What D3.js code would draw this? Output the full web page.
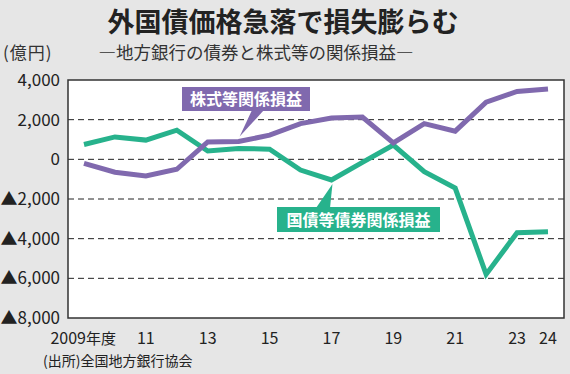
<!DOCTYPE html>
<html>
<head>
<meta charset="utf-8">
<script src="https://cdn.jsdelivr.net/npm/d3@7"></script>
<style>
  html, body { margin: 0; padding: 0; background: #e6e6e6; }
  svg { display: block; font-family: "Noto Sans CJK JP", "Noto Sans", sans-serif; }
</style>
</head>
<body>
<div id="chart"></div>
<script>
// fiscal years 2009-2024
const years = [2009, 2010, 2011, 2012, 2013, 2014, 2015, 2016, 2017, 2018, 2019, 2020, 2021, 2022, 2023, 2024]
// 株式等関係損益 (億円)
const stockValues = [-200, -650, -840, -500, 880, 900, 1220, 1800, 2080, 2130, 830, 1800, 1420, 2880, 3420, 3550]
// 国債等債券関係損益 (億円)
const bondValues = [750, 1130, 970, 1470, 420, 550, 510, -540, -1040, -150, 720, -620, -1450, -5800, -3700, -3650]
const yTicks = [4000, 2000, 0, -2000, -4000, -6000, -8000]
const xTickYears = [2009, 2011, 2013, 2015, 2017, 2019, 2021, 2023, 2024]

const width = 570
const height = 374
const plot = { left: 68, right: 564, top: 80, bottom: 318 }

const svg = d3.select('#chart').append('svg')
  .attr('width', width)
  .attr('height', height)

// scales
const x = d3.scaleLinear().domain([2009, 2024]).range([84, 548])
const y = d3.scaleLinear().domain([-8000, 4000]).range([plot.bottom, plot.top])

// titles
svg.append('text')
  .attr('x', 283).attr('y', 32)
  .attr('text-anchor', 'middle')
  .style('font-size', '27px').style('font-weight', 'bold').style('fill', '#222')
  .text('外国債価格急落で損失膨らむ')

svg.append('text')
  .attr('x', 256).attr('y', 59)
  .attr('text-anchor', 'middle')
  .style('font-size', '17.5px').style('fill', '#333')
  .text('―地方銀行の債券と株式等の関係損益―')

svg.append('text')
  .attr('x', 3).attr('y', 59)
  .style('font-size', '17px').style('fill', '#333')
  .style('letter-spacing', '1px')
  .text('(億円)')

// plot background
svg.append('rect')
  .attr('x', plot.left).attr('y', plot.top)
  .attr('width', plot.right - plot.left).attr('height', plot.bottom - plot.top)
  .attr('fill', '#fff')

// dashed grid lines
svg.selectAll('.grid-line')
  .data(yTicks.filter(d => d > -8000 && d < 4000))
  .enter()
  .append('line')
  .attr('class', 'grid-line')
  .attr('x1', plot.left).attr('x2', plot.right)
  .attr('y1', d => y(d)).attr('y2', d => y(d))
  .attr('stroke', '#222')
  .attr('stroke-width', 1)
  .attr('stroke-dasharray', '6,4')

// frame
svg.append('rect')
  .attr('x', plot.left).attr('y', plot.top)
  .attr('width', plot.right - plot.left).attr('height', plot.bottom - plot.top)
  .attr('fill', 'none')
  .attr('stroke', '#333')
  .attr('stroke-width', 1.5)

// y-axis labels
const fmt = d3.format(',')
svg.selectAll('.y-label')
  .data(yTicks)
  .enter()
  .append('text')
  .attr('class', 'y-label')
  .attr('x', 60).attr('y', d => y(d) + 6)
  .attr('text-anchor', 'end')
  .style('font-size', '17px').style('fill', '#222')
  .text(d => (d < 0 ? '▲' : '') + fmt(Math.abs(d)))

// x-axis labels
svg.selectAll('.x-label')
  .data(xTickYears)
  .enter()
  .append('text')
  .attr('class', 'x-label')
  .attr('x', d => d === 2009 ? x(d) + 2 : x(d))
  .attr('y', 344)
  .attr('text-anchor', d => d === 2009 ? 'end' : 'middle')
  .style('font-size', '16px').style('fill', '#222')
  .text(d => d === 2009 ? '2009' : String(d).slice(2))

svg.append('text')
  .attr('x', x(2009) + 2).attr('y', 344)
  .style('font-size', '15px').style('fill', '#222')
  .text('年度')

// source
svg.append('text')
  .attr('x', 43).attr('y', 366)
  .style('font-size', '14px').style('fill', '#222')
  .text('(出所)全国地方銀行協会')

// lines
const line = d3.line()
  .x((d, i) => x(years[i]))
  .y(d => y(d))

const purple = '#8069ae'
const green = '#27b28c'

svg.append('path')
  .datum(bondValues)
  .attr('d', line)
  .attr('fill', 'none')
  .attr('stroke', green)
  .attr('stroke-width', 5)
  .attr('stroke-linejoin', 'miter')

svg.append('path')
  .datum(stockValues)
  .attr('d', line)
  .attr('fill', 'none')
  .attr('stroke', purple)
  .attr('stroke-width', 5)
  .attr('stroke-linejoin', 'miter')

// callout labels
function callout(cfg) {
  const g = svg.append('g')
  g.append('path')
    .attr('d', d3.line()(cfg.pointer))
    .attr('fill', cfg.color)
  g.append('rect')
    .attr('x', cfg.x).attr('y', cfg.y)
    .attr('width', cfg.w).attr('height', cfg.h)
    .attr('fill', cfg.color)
  g.append('text')
    .attr('x', cfg.x + cfg.w / 2).attr('y', cfg.y + cfg.h / 2 + 6)
    .attr('text-anchor', 'middle')
    .style('font-size', '16px').style('font-weight', 'bold').style('fill', '#fff')
    .text(cfg.text)
}

const stockTip = [x(2014) + 1, y(900) - 5]
callout({
  text: '株式等関係損益', color: purple,
  x: 182, y: 87, w: 128, h: 24,
  pointer: [[252, 110], [264, 110], stockTip]
})

const bondTip = [x(2017) + 1, y(-1040) + 4]
callout({
  text: '国債等債券関係損益', color: green,
  x: 277, y: 207, w: 163, h: 25,
  pointer: [[316, 208], [330, 208], bondTip]
})
</script>
</body>
</html>
